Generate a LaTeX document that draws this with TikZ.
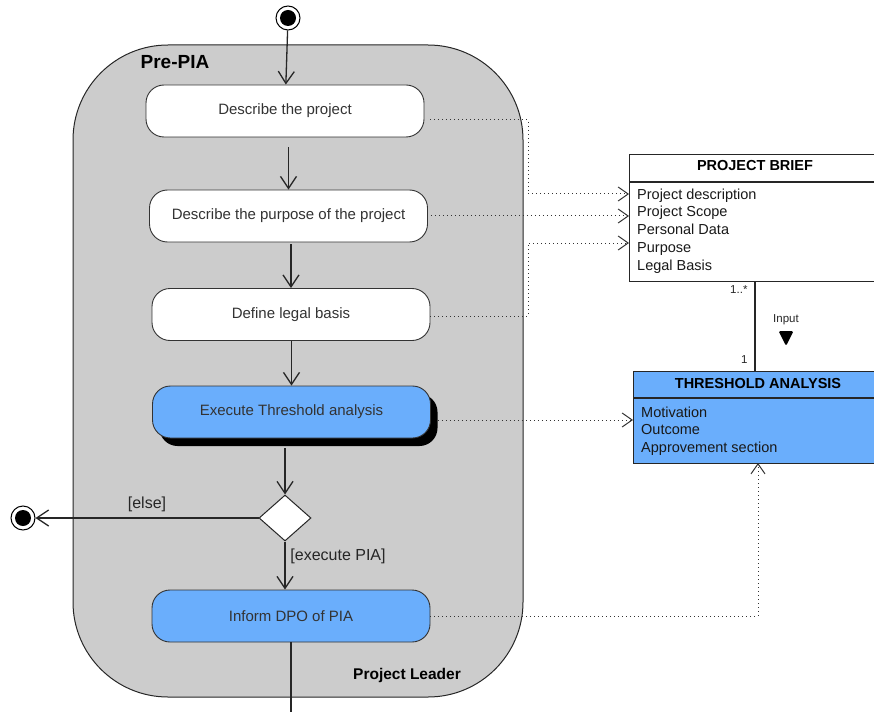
\documentclass[tikz,border=0pt]{standalone}
\usepackage{fontspec}
\setmainfont{Liberation Sans}
\usetikzlibrary{arrows.meta,shapes.geometric,shadows}
\definecolor{lanegray}{HTML}{CCCCCC}
\definecolor{actblue}{HTML}{6AAEFC}
\definecolor{acttext}{HTML}{333333}

\tikzset{
  lane/.style={draw=black!85, line width=1pt, fill=lanegray, rounded corners=95pt,
    minimum width=450pt, minimum height=652pt, inner sep=0pt},
  act/.style={draw=black!80, line width=0.9pt, rounded corners=18pt, minimum width=278pt,
    minimum height=52pt, fill=white, text=acttext, inner sep=0pt,
    font=\fontsize{15}{17}\selectfont},
  actblue/.style={act, fill=actblue},
  flow/.style={draw=black!85, line width=1.3pt,
    -{Straight Barb[length=12pt,width=16pt,line width=1.3pt]}},
  plain/.style={draw=black!85, line width=1.3pt},
  dep/.style={draw=black!80, line width=1pt, dash pattern=on 1pt off 3pt,
    -{Straight Barb[length=10pt,width=14pt,line width=1pt]}},
  startend/.style={circle, draw=black, line width=1pt, fill=white, minimum size=24pt,
    inner sep=0pt, path picture={\fill[black] (path picture bounding box.center) circle (8pt);}},
  choice/.style={diamond, draw=black!85, line width=1pt, fill=white, minimum width=52pt,
    minimum height=46pt, inner sep=0pt},
  guard/.style={font=\fontsize{16}{19}\selectfont, text=black!85},
  classbox/.style={draw=black!85, line width=1.2pt, inner sep=0pt, anchor=north west},
  classhead/.style={font=\bfseries\fontsize{14.5}{17}\selectfont},
  attrs/.style={anchor=north west, align=left, inner sep=0pt, text=black!90,
    font=\fontsize{14.5}{17.75}\selectfont},
  mult/.style={font=\fontsize{11.5}{13}\selectfont, text=black!85},
}

\begin{document}
\begin{tikzpicture}[x=1pt,y=-1pt]
  \clip (0,0) rectangle (874,711);

  % swimlane container
  \node[lane] (lane) at (298,371) {};
  \node[font=\bfseries\fontsize{19}{22}\selectfont] (lanetitle) at (175,62) {Pre-PIA};
  \node[font=\bfseries\fontsize{15.5}{18}\selectfont] (laneowner) at (407,675) {Project Leader};

  % activity flow
  \node[startend] (start) at (288,18) {};
  \node[act] (b1) at (285,111) {Describe the project};
  \node[act] (b2) at (288.5,216) {Describe the purpose of the project};
  \node[act] (b3) at (291,314.5) {Define legal basis};
  \node[actblue, drop shadow={shadow xshift=7pt, shadow yshift=-8pt, fill=black, opacity=1}]
    (b4) at (291.5,412) {Execute Threshold analysis};
  \node[choice] (dec) at (285,518) {};
  \node[startend] (stop) at (23,518) {};
  \node[actblue] (b5) at (291,616) {Inform DPO of PIA};
  \coordinate (exit) at (291,712);

  \draw[flow] (start) -- (b1);
  \draw[flow, shorten <=10pt] (b1.south -| b2.north) -- (b2.north);
  \draw[flow, shorten <=2pt] (b2.south -| b3.north) -- (b3.north);
  \draw[flow] (b3.south -| b4.north) -- (b4.north);
  \draw[flow, shorten <=10pt] (b4.south -| dec.north) -- (dec.north);
  \draw[flow] (dec.west) -- (stop);
  \draw[flow] (dec.south) -- (dec.south |- b5.north);
  \draw[plain] (b5.south) -- (exit);

  \node[guard] (gelse) at (147,504) {[else]};
  \node[guard] (gpia) at (338,556) {[execute PIA]};

  % PROJECT BRIEF class
  \node[classbox, minimum width=254pt, minimum height=127pt] (pb) at (629,154) {};
  \coordinate (pbsep) at (629,182);
  \draw[line width=1.2pt, draw=black!85] (pbsep) -- (pbsep -| pb.east);
  \node[classhead] (pbhead) at (755,166) {PROJECT BRIEF};
  \node[attrs] (pbattrs) at (637,188.5) {Project description\\Project Scope\\Personal Data\\Purpose\\Legal Basis};

  % THRESHOLD ANALYSIS class
  \node[classbox, fill=actblue, minimum width=254pt, minimum height=92pt] (ta) at (633,371) {};
  \coordinate (tasep) at (633,398);
  \draw[line width=1.2pt, draw=black!85] (tasep) -- (tasep -| ta.east);
  \node[classhead] (tahead) at (758,384) {THRESHOLD ANALYSIS};
  \node[attrs, font=\fontsize{14.5}{17.5}\selectfont] (taattrs) at (641,406.5) {Motivation\\Outcome\\Approvement section};

  % association between the two classes
  \coordinate (assoc) at (755,0);
  \draw[line width=1.2pt, draw=black!85] (assoc |- pb.south) -- (assoc |- ta.north);
  \node[mult, anchor=east] (m1) at (751,290) {1..*};
  \node[mult, anchor=east] (m2) at (751,360) {1};
  \node[mult] (inlabel) at (786,320) {Input};
  \fill[black, rounded corners=1.5pt] (778.5,331) -- (793.5,331) -- (786,346) -- cycle;

  % information flows into the classes
  \coordinate (bendx) at (528,0);
  \coordinate (in1) at (629,194);
  \coordinate (in2) at (629,216);
  \coordinate (in3) at (629,243);
  \coordinate (in4) at (633,420);
  \coordinate (in5) at (758,463);
  \draw[dep] ([xshift=6pt,yshift=-9pt]b1.east) -- ([yshift=-9pt]b1.east -| bendx) |- (in1);
  \draw[dep] ([xshift=3pt]b2.east) -- (in2);
  \draw[dep] ([yshift=-1.5pt]b3.east) -- ([yshift=-1.5pt]b3.east -| bendx) |- (in3);
  \draw[dep] ([xshift=7pt,yshift=-8pt]b4.east) -- (in4);
  \draw[dep] (b5.east) -| (in5);
\end{tikzpicture}
\end{document}
